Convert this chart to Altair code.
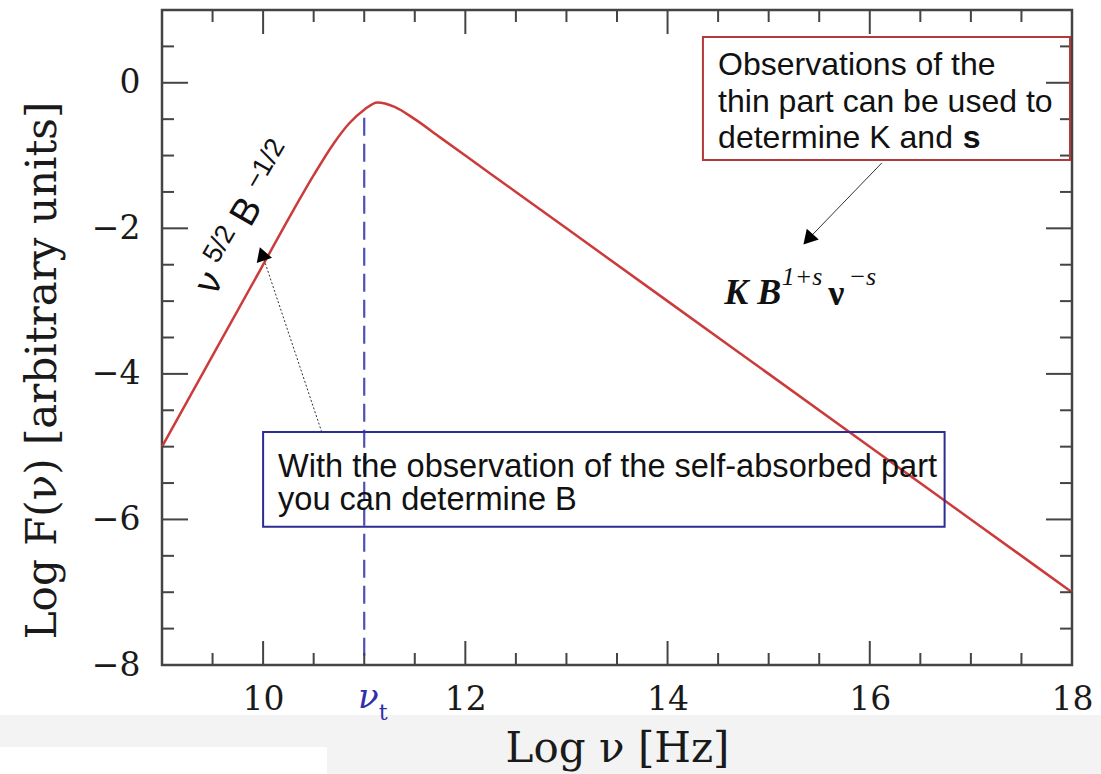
import altair as alt
import pandas as pd

# ---- data ----
log_nu = [9.0, 9.5, 10.0, 10.3, 10.5, 10.7, 10.85, 11.0, 11.13, 11.3, 11.5, 11.75,
          12.0, 12.5, 13.0, 14.0, 15.0, 16.0, 17.0, 18.0]
log_f = [-5.0, -3.75, -2.5, -1.75, -1.27, -0.83, -0.56, -0.37, -0.27, -0.33, -0.5, -0.75,
         -1.0, -1.5, -2.0, -3.0, -4.0, -5.0, -6.0, -7.0]

x_labels = [10, 12, 14, 16, 18]
y_labels = [0, -2, -4, -6, -8]
x_major = [10, 12, 14, 16]
x_minor = [9.5, 10.5, 11, 11.5, 12.5, 13, 13.5, 14.5, 15, 15.5, 16.5, 17, 17.5]
y_major = [0, -2, -4, -6]
y_minor = [0.5, -0.5, -1, -1.5, -2.5, -3, -3.5, -4.5, -5, -5.5, -6.5, -7, -7.5]

nu_t = 11.0
nu_t_top = -0.48

# annotation boxes (data coordinates)
box_x = [14.35, 10.0]
box_x2 = [17.98, 16.74]
box_y = [0.63, -4.80]
box_y2 = [-1.06, -6.10]
box_col = ["#b23a3a", "#2c2c92"]

thin_lines = ["Observations of the", "thin part can be used to", "determine K and"]
thin_y = [0.244, -0.264, -0.759]
thin_x = 14.50
bold_s_x = 16.92

self_lines = ["With the observation of the self-absorbed part", "you can determine B"]
self_y = [-5.279, -5.733]
self_x = 10.147

W, H = 910, 655
X = alt.Scale(domain=[9, 18], nice=False, zero=False)
Y = alt.Scale(domain=[-8, 1], nice=False, zero=False)
FRAME = "#444444"
SERIF = "DejaVu Serif"
TIMES = "Liberation Serif"
SANS = "Liberation Sans"

curve_df = pd.DataFrame({"nu": log_nu, "f": log_f})

curve = alt.Chart(curve_df).mark_line(
    color="#cc3b3b", strokeWidth=2.5, interpolate="monotone"
).encode(
    x=alt.X("nu:Q", scale=X, axis=alt.Axis(
        values=x_labels, format="d", ticks=False, domain=False, grid=False,
        labelFont=SERIF, labelFontSize=33, labelColor="#1a1a1a", labelPadding=18,
        labelFlush=False, labelOverlap=False,
        title="Log ν [Hz]", titleFont=SERIF, titleFontSize=42, titleFontWeight="normal",
        titleColor="#1a1a1a", titleY=83, titleBaseline="middle", zindex=2)),
    y=alt.Y("f:Q", scale=Y, axis=alt.Axis(
        values=y_labels, format="d", ticks=False, domain=False, grid=False,
        labelFont=SERIF, labelFontSize=33, labelColor="#1a1a1a", labelPadding=22,
        labelFlush=False, labelOverlap=False,
        title="Log F(ν) [arbitrary units]", titleFont=SERIF, titleFontSize=42,
        titleFontWeight="normal", titleColor="#1a1a1a", titleAngle=270,
        titleX=-120, titleY=360, titleAlign="center", titleBaseline="middle", zindex=2)),
)

one = pd.DataFrame({"a": [0]})
band = alt.Chart(one).mark_rect(color="#f3f3f3").encode(
    x=alt.value(-162), x2=alt.value(939), y=alt.value(705), y2=alt.value(764))
white_patch = alt.Chart(one).mark_rect(color="#ffffff").encode(
    x=alt.value(-162), x2=alt.value(165), y=alt.value(737), y2=alt.value(764))

vline = alt.Chart(pd.DataFrame({"x": [nu_t], "y": [nu_t_top], "y2": [-8]})).mark_rule(
    color="#5050b4", strokeWidth=2.2, strokeDash=[18, 8]
).encode(x=alt.X("x:Q", scale=X), y=alt.Y("y:Q", scale=Y), y2="y2:Q")


def xticks(vals, length, top):
    df = pd.DataFrame({"v": vals})
    if top:
        yy, yy2 = 0, length
    else:
        yy, yy2 = H, H - length
    return alt.Chart(df).mark_rule(color=FRAME, strokeWidth=2).encode(
        x=alt.X("v:Q", scale=X), y=alt.value(yy), y2=alt.value(yy2))


def yticks(vals, length, right):
    df = pd.DataFrame({"v": vals})
    if right:
        xx, xx2 = W, W - length
    else:
        xx, xx2 = 0, length
    return alt.Chart(df).mark_rule(color=FRAME, strokeWidth=2).encode(
        y=alt.Y("v:Q", scale=Y), x=alt.value(xx), x2=alt.value(xx2))


tick_layers = [
    xticks(x_major, 24, False), xticks(x_minor, 12, False),
    xticks(x_major, 24, True), xticks(x_minor, 12, True),
    yticks(y_major, 26, False), yticks(y_minor, 12, False),
    yticks(y_major, 26, True), yticks(y_minor, 12, True),
]

boxes_df = pd.DataFrame({"x": box_x, "x2": box_x2, "y": box_y, "y2": box_y2, "c": box_col})
boxes = alt.Chart(boxes_df).mark_rect(fillOpacity=0, strokeWidth=2).encode(
    x=alt.X("x:Q", scale=X), x2="x2:Q", y=alt.Y("y:Q", scale=Y), y2="y2:Q",
    stroke=alt.Stroke("c:N", scale=None))

thin_df = pd.DataFrame({"x": [thin_x] * 3, "y": thin_y, "t": thin_lines})
thin_text = alt.Chart(thin_df).mark_text(
    font=SANS, fontSize=32, align="left", baseline="middle", color="#111111"
).encode(x=alt.X("x:Q", scale=X), y=alt.Y("y:Q", scale=Y), text="t:N")
bold_s = alt.Chart(pd.DataFrame({"x": [bold_s_x], "y": [thin_y[2]], "t": ["s"]})).mark_text(
    font=SANS, fontSize=32, fontWeight="bold", align="left", baseline="middle", color="#111111"
).encode(x=alt.X("x:Q", scale=X), y=alt.Y("y:Q", scale=Y), text="t:N")

self_df = pd.DataFrame({"x": [self_x] * 2, "y": self_y, "t": self_lines})
self_text = alt.Chart(self_df).mark_text(
    font=SANS, fontSize=32.6, align="left", baseline="middle", color="#111111"
).encode(x=alt.X("x:Q", scale=X), y=alt.Y("y:Q", scale=Y), text="t:N")

# rotated nu^{5/2} B^{-1/2}
rot_big = pd.DataFrame({"x": [9.475, 9.841], "y": [-2.751, -1.776], "t": ["ν", "B"]})
rot_small = pd.DataFrame({"x": [9.57, 10.02], "y": [-2.22, -1.12], "t": ["5/2", "−1/2"]})
rot1 = alt.Chart(rot_big).mark_text(
    font=SANS, fontSize=38, angle=300, align="center", baseline="middle", color="#111111"
).encode(x=alt.X("x:Q", scale=X), y=alt.Y("y:Q", scale=Y), text="t:N")
rot2 = alt.Chart(rot_small).mark_text(
    font=SANS, fontSize=27, angle=300, align="center", baseline="middle", color="#111111"
).encode(x=alt.X("x:Q", scale=X), y=alt.Y("y:Q", scale=Y), text="t:N")

# K B^{1+s} nu^{-s}
kb_big = pd.DataFrame({"x": [14.56], "y": [-3.04], "t": ["K B"]})
kb_nu = pd.DataFrame({"x": [15.59], "y": [-3.055], "t": ["ν"]})
kb_small = pd.DataFrame({"x": [15.13, 15.79], "y": [-2.78, -2.78], "t": ["1+s", "−s"]})
kb1 = alt.Chart(kb_big).mark_text(
    font=TIMES, fontSize=36, fontStyle="italic", fontWeight="bold", align="left",
    baseline="alphabetic", color="#111111"
).encode(x=alt.X("x:Q", scale=X), y=alt.Y("y:Q", scale=Y), text="t:N")
kb2 = alt.Chart(kb_nu).mark_text(
    font=TIMES, fontSize=36, fontWeight="bold", align="left",
    baseline="alphabetic", color="#111111"
).encode(x=alt.X("x:Q", scale=X), y=alt.Y("y:Q", scale=Y), text="t:N")
kb3 = alt.Chart(kb_small).mark_text(
    font=TIMES, fontSize=26, fontStyle="italic", align="left",
    baseline="alphabetic", color="#111111"
).encode(x=alt.X("x:Q", scale=X), y=alt.Y("y:Q", scale=Y), text="t:N")

# arrows
arrow1 = alt.Chart(pd.DataFrame({"x": [16.12], "y": [-1.10], "x2": [15.39], "y2": [-2.15]})).mark_rule(
    color="#333333", strokeWidth=1
).encode(x=alt.X("x:Q", scale=X), y=alt.Y("y:Q", scale=Y), x2="x2:Q", y2="y2:Q")
arrow2 = alt.Chart(pd.DataFrame({"x": [10.58], "y": [-4.80], "x2": [9.99], "y2": [-2.35]})).mark_rule(
    color="#333333", strokeWidth=1, strokeDash=[2, 2]
).encode(x=alt.X("x:Q", scale=X), y=alt.Y("y:Q", scale=Y), x2="x2:Q", y2="y2:Q")
heads = alt.Chart(pd.DataFrame({"x": [15.39, 9.99], "y": [-2.15, -2.35], "a": [222, 341]})).mark_point(
    shape="triangle-up", filled=True, color="#000000", size=260, opacity=1
).encode(x=alt.X("x:Q", scale=X), y=alt.Y("y:Q", scale=Y), angle=alt.Angle("a:Q", scale=None))

# nu_t label
nut_df = pd.DataFrame({"x": [nu_t]})
nut1 = alt.Chart(nut_df).mark_text(
    font=SERIF, fontSize=34, fontStyle="italic", color="#2f2fa8", align="center",
    baseline="middle", dx=4, text="ν"
).encode(x=alt.X("x:Q", scale=X), y=alt.value(688))
nut2 = alt.Chart(nut_df).mark_text(
    font=SERIF, fontSize=22, color="#2f2fa8", align="center", baseline="middle", dx=19, text="t"
).encode(x=alt.X("x:Q", scale=X), y=alt.value(703))

chart = alt.layer(
    band, white_patch, curve, vline, *tick_layers, boxes, thin_text, bold_s, self_text,
    rot1, rot2, kb1, kb2, kb3, arrow1, arrow2, heads, nut1, nut2
).properties(
    width=W, height=H,
    autosize=alt.AutoSizeParams(type="none"),
    padding={"left": 162, "top": 10, "right": 29, "bottom": 109},
    background="white",
).configure_view(stroke=FRAME, strokeWidth=2.5)

chart.save("out.html", embed_options={"renderer": "svg", "actions": False})
